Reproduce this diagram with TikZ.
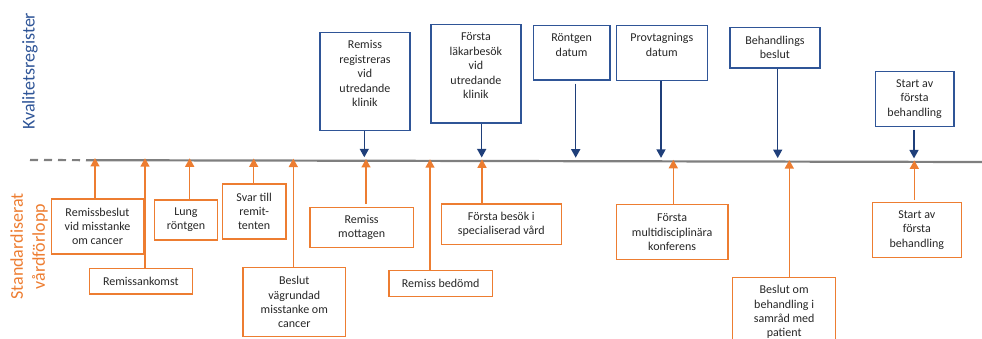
\documentclass[tikz,border=0pt]{standalone}
\usepackage{fontspec}
\setmainfont{Carlito}
\usetikzlibrary{arrows.meta}
\definecolor{blueC}{HTML}{2F5597}
\definecolor{blueA}{HTML}{1F3F7A}
\definecolor{orangeC}{HTML}{ED7D31}
\definecolor{lineC}{HTML}{7F7F7F}
\definecolor{textC}{HTML}{262626}
\tikzset{
  bbox/.style={draw=blueC, line width=1.3pt, anchor=north west, inner sep=0pt},
  obox/.style={draw=orangeC, line width=1.3pt, anchor=north west, inner sep=0pt,
     font=\fontsize{12}{14.4}\selectfont, align=center, text=textC},
  btxt/.style={anchor=north, inner sep=0pt, yshift=-8.8pt,
     font=\fontsize{12}{14.4}\selectfont, align=center, text=textC},
  barrow/.style={draw=blueA, line width=1.5pt, -{Triangle[width=9pt,length=8.5pt]}},
  oarrow/.style={draw=orangeC, line width=1.5pt, -{Triangle[width=9pt,length=8.5pt]}},
  sidelab/.style={rotate=90, font=\fontsize{18}{22}\selectfont, align=center, inner sep=0pt}
}
\begin{document}
\begin{tikzpicture}[x=1pt,y=-1pt]
\useasboundingbox (0,0) rectangle (982,339);
% main time line
\coordinate (L0) at (30,160);
\coordinate (Ls) at (95,160.2);
\coordinate (L1) at (982,162);
\draw[lineC, line width=2.2pt, dash pattern=on 8pt off 6pt] (L0) -- (Ls);
\draw[lineC, line width=2.2pt] (Ls) -- (L1);

% side labels
\node[sidelab, text=blueC] (kr) at (30,71) {Kvalitetsregister};
\node[sidelab, text=orangeC] (sv) at (29,246.5) {Standardiserat\\vårdförlopp};

% blue boxes (Kvalitetsregister)
\node[bbox, minimum width=90pt, minimum height=98.3pt] (b1) at (319.3,31.7) {};
\node[btxt] (t1) at (b1.north) {Remiss\\registreras\\vid\\utredande\\klinik};
\node[bbox, minimum width=90pt, minimum height=98.3pt] (b2) at (430.3,24) {};
\node[btxt] (t2) at (b2.north) {Första\\läkarbesök\\vid\\utredande\\klinik};
\node[bbox, minimum width=76.6pt, minimum height=54.6pt] (b3) at (532.7,24.7) {};
\node[btxt] (t3) at (b3.north) {Röntgen\\datum};
\node[bbox, minimum width=91pt, minimum height=55.3pt] (b4) at (615.7,24.7) {};
\node[btxt] (t4) at (b4.north) {Provtagnings\\datum};
\node[bbox, minimum width=90pt, minimum height=40.6pt] (b5) at (729.3,26.7) {};
\node[btxt] (t5) at (b5.north) {Behandlings\\beslut};
\node[bbox, minimum width=78.6pt, minimum height=55pt] (b6) at (874.7,70.7) {};
\node[btxt] (t6) at (b6.north) {Start av\\första\\behandling};

% blue arrow end points (just above the line)
\coordinate (p1) at (364.3,157.3);
\coordinate (p2) at (481.7,157.5);
\coordinate (p3) at (575.7,157.7);
\coordinate (p4) at (661,157.9);
\coordinate (p5) at (777.7,158.1);
\coordinate (p6) at (914,158.4);
\draw[barrow] (b1.south -| p1) -- (p1);
\draw[barrow] (b2.south -| p2) -- (p2);
\draw[barrow, shorten <=3pt] (b3.south -| p3) -- (p3);
\draw[barrow] (b4.south -| p4) -- (p4);
\draw[barrow] (b5.south -| p5) -- (p5);
\draw[barrow, shorten <=3pt] (b6.south -| p6) -- (p6);

% orange boxes (Standardiserat vårdförlopp)
\node[obox, minimum width=91.7pt, minimum height=55pt] (o1) at (51,198.3) {Remissbeslut\\vid misstanke\\om cancer};
\node[obox, minimum width=103pt, minimum height=25.6pt] (o2) at (88.7,267.7) {Remissankomst};
\node[obox, minimum width=63.3pt, minimum height=40pt] (o3) at (153.7,199.3) {Lung\\röntgen};
\node[obox, minimum width=63.6pt, minimum height=55pt] (o4) at (221.7,183.3) {Svar till\\remit-\\tenten};
\node[obox, minimum width=102.7pt, minimum height=69pt] (o5) at (242.3,267) {Beslut\\vägrundad\\misstanke om\\cancer};
\node[obox, minimum width=103.4pt, minimum height=40pt] (o6) at (309.3,206.7) {Remiss\\mottagen};
\node[obox, minimum width=103.4pt, minimum height=25.7pt] (o7) at (388.3,270) {Remiss bedömd};
\node[obox, minimum width=120pt, minimum height=40.4pt] (o8) at (440.7,203.3) {Första besök i\\specialiserad vård};
\node[obox, minimum width=111.6pt, minimum height=55pt] (o9) at (615.7,204) {Första\\multidisciplinära\\konferens};
\node[obox, minimum width=103pt, minimum height=69.5pt] (o10) at (732,276.7) {Beslut om\\behandling i\\samråd med\\patient};
\node[obox, minimum width=89pt, minimum height=55pt] (o11) at (871.7,201.7) {Start av\\första\\behandling};

% orange arrow end points (tips reaching the line)
\coordinate (q1) at (95,158);
\coordinate (q2) at (145,158.2);
\coordinate (q3) at (189.7,158.3);
\coordinate (q4) at (253.7,158.5);
\coordinate (q5) at (293.3,158.6);
\coordinate (q6) at (366,159);
\coordinate (q7) at (430,159.2);
\coordinate (q8) at (482,159.3);
\coordinate (q9) at (673.3,159.8);
\coordinate (q10) at (789.3,160.1);
\coordinate (q11) at (914.3,160.4);
\draw[oarrow] (o1.north -| q1) -- (q1);
\draw[oarrow] (o2.north -| q2) -- (q2);
\draw[oarrow] (o3.north -| q3) -- (q3);
\draw[oarrow] (o4.north -| q4) -- (q4);
\draw[oarrow] (o5.north -| q5) -- (q5);
\draw[oarrow, shorten <=2.5pt] (o6.north -| q6) -- (q6);
\draw[oarrow] (o7.north -| q7) -- (q7);
\draw[oarrow] (o8.north -| q8) -- (q8);
\draw[oarrow] (o9.north -| q9) -- (q9);
\draw[oarrow] (o10.north -| q10) -- (q10);
\draw[oarrow, shorten <=2pt] (o11.north -| q11) -- (q11);
\end{tikzpicture}
\end{document}
